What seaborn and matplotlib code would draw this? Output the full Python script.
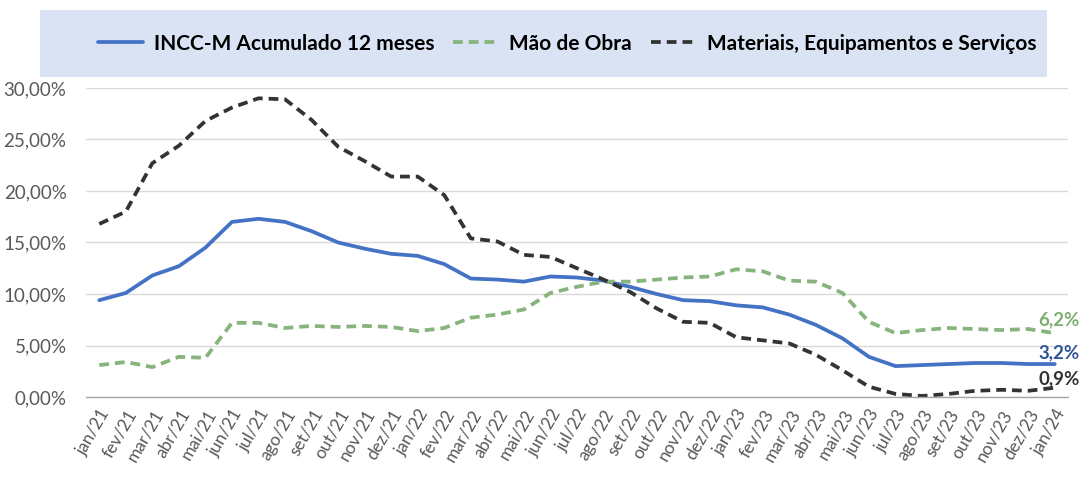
import numpy as np
import pandas as pd
import matplotlib
matplotlib.use("Agg")
import matplotlib.pyplot as plt
import seaborn as sns
from matplotlib.patches import Rectangle
from matplotlib.lines import Line2D

months = ["jan/21", "fev/21", "mar/21", "abr/21", "mai/21", "jun/21", "jul/21", "ago/21",
          "set/21", "out/21", "nov/21", "dez/21", "jan/22", "fev/22", "mar/22", "abr/22",
          "mai/22", "jun/22", "jul/22", "ago/22", "set/22", "out/22", "nov/22", "dez/22",
          "jan/23", "fev/23", "mar/23", "abr/23", "mai/23", "jun/23", "jul/23", "ago/23",
          "set/23", "out/23", "nov/23", "dez/23", "jan/24"]

incc = [9.4, 10.1, 11.8, 12.7, 14.5, 17.0, 17.3, 17.0, 16.1, 15.0, 14.4, 13.9,
        13.7, 12.9, 11.5, 11.4, 11.2, 11.7, 11.6, 11.3, 10.7, 10.0, 9.4, 9.3,
        8.9, 8.7, 8.0, 7.0, 5.7, 3.9, 3.0, 3.1, 3.2, 3.3, 3.3, 3.2, 3.2]

mao_obra = [3.1, 3.4, 2.9, 3.9, 3.8, 7.2, 7.2, 6.7, 6.9, 6.8, 6.9, 6.8,
            6.4, 6.7, 7.7, 8.0, 8.5, 10.1, 10.7, 11.2, 11.2, 11.4, 11.6, 11.7,
            12.4, 12.2, 11.3, 11.2, 10.1, 7.3, 6.2, 6.5, 6.7, 6.6, 6.5, 6.6, 6.2]

materiais = [16.8, 18.0, 22.7, 24.4, 26.8, 28.1, 29.0, 28.9, 26.9, 24.3, 22.9, 21.4,
             21.4, 19.6, 15.4, 15.1, 13.8, 13.6, 12.5, 11.4, 10.2, 8.6, 7.3, 7.2,
             5.8, 5.5, 5.2, 4.1, 2.6, 1.0, 0.3, 0.1, 0.3, 0.6, 0.7, 0.6, 0.9]

series_names = ["INCC-M Acumulado 12 meses", "Mão de Obra", "Materiais, Equipamentos e Serviços"]
end_labels = ["3,2%", "6,2%", "0,9%"]
yticks = [0, 5, 10, 15, 20, 25, 30]

sns.set_style("white")
plt.rcParams['font.family'] = ['Lato', 'DejaVu Sans']

fig = plt.figure(figsize=(10.84, 4.86), dpi=100)
W, H = 1084, 486
ax = fig.add_axes([86 / W, 1 - 397 / H, (1068 - 86) / W, (397 - 88) / H])

x = np.arange(len(months))
df = pd.DataFrame({"x": x, "incc": incc, "mao": mao_obra, "mat": materiais})

colors = ["#4472C4", "#87B37C", "#333333"]
dash = (0, (2.6, 1.6))
sns.lineplot(data=df, x="x", y="incc", ax=ax, color=colors[0], lw=2.7)
sns.lineplot(data=df, x="x", y="mao", ax=ax, color=colors[1], lw=2.7, linestyle=dash)
sns.lineplot(data=df, x="x", y="mat", ax=ax, color=colors[2], lw=2.7, linestyle=dash)

ax.set_xlim(-0.5, len(months) - 0.5)
ax.set_ylim(0, 30)
ax.set_yticks(yticks)
ax.set_yticklabels([f"{v:.2f}%".replace(".", ",") for v in yticks], fontsize=13.5, color="#595959")
ax.set_xticks(x)
ax.set_xticklabels(months, rotation=60, ha="right", rotation_mode="anchor",
                   fontsize=12.5, color="#595959")
ax.set_xticks(np.arange(-0.5, len(months), 1.0), minor=True)
ax.tick_params(axis="x", which="major", length=0, pad=7)
ax.tick_params(axis="x", which="minor", length=6, color="#A6A6A6", width=1, direction="out")
ax.tick_params(axis="y", length=0, pad=14)
ax.set_xlabel("")
ax.set_ylabel("")
ax.grid(axis="y", color="#D9D9D9", lw=1)
ax.set_axisbelow(True)
for s in ["top", "right", "left"]:
    ax.spines[s].set_visible(False)
ax.spines["bottom"].set_color("#A6A6A6")
ax.spines["bottom"].set_linewidth(1)

# end labels
last = len(months) - 1
ax.annotate(end_labels[1], (last, mao_obra[-1]), xytext=(3, 9.5), textcoords="offset points",
            ha="center", va="center", fontsize=13.5, fontweight="bold", color="#7FAE72",
            annotation_clip=False)
ax.annotate(end_labels[0], (last, incc[-1]), xytext=(3, 8), textcoords="offset points",
            ha="center", va="center", fontsize=13.5, fontweight="bold", color="#2F5597",
            annotation_clip=False)
ax.annotate(end_labels[2], (last, materiais[-1]), xytext=(3, 6.5), textcoords="offset points",
            ha="center", va="center", fontsize=13.5, fontweight="bold", color="#333333",
            annotation_clip=False)

# legend box
fig.patches.append(Rectangle((40 / W, 1 - 77 / H), (1047 - 40) / W, 67 / H,
                             transform=fig.transFigure, facecolor="#DAE3F3",
                             edgecolor="none", zorder=0))
handles = [Line2D([0], [0], color=colors[0], lw=2.7),
           Line2D([0], [0], color=colors[1], lw=2.7, linestyle=dash),
           Line2D([0], [0], color=colors[2], lw=2.7, linestyle=dash)]
fig.legend(handles, series_names, loc="center", bbox_to_anchor=(567 / W, 1 - 43.5 / H),
           ncol=3, frameon=False, prop={"size": 15, "weight": "bold"},
           handlelength=2.2, handletextpad=0.5, columnspacing=0.9, labelcolor="#000000")

fig.savefig("out.png", dpi=100, facecolor="white")
